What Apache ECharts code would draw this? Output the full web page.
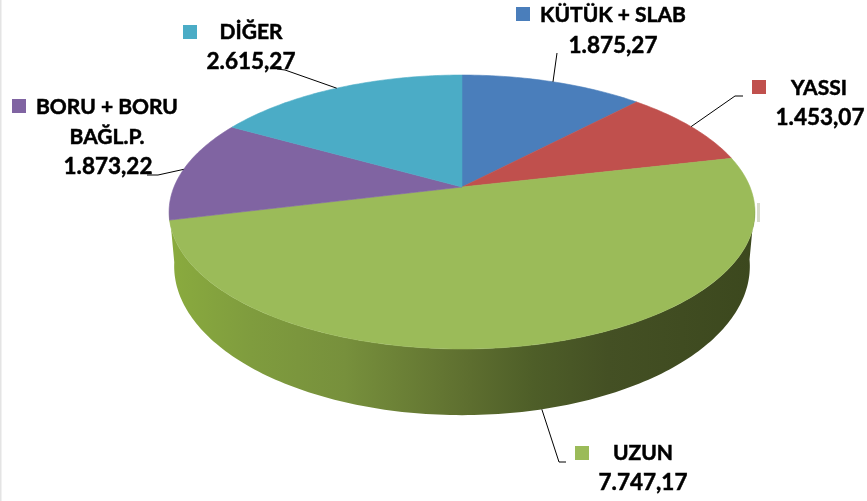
<!DOCTYPE html>
<html>
<head>
<meta charset="utf-8">
<style>
  html, body { margin: 0; padding: 0; background: #fff; }
  #chart { width: 867px; height: 501px; }
</style>
<script src="https://cdn.jsdelivr.net/npm/echarts@6/dist/echarts.min.js"></script>
</head>
<body>
<div id="chart"></div>
<script>
const categories = ['KÜTÜK + SLAB', 'YASSI', 'UZUN', 'BORU + BORU\nBAĞL.P.', 'DİĞER']
const values = [1875.27, 1453.07, 7747.17, 1873.22, 2615.27]
const colors = ['#4a7ebb', '#c0504d', '#9bbb59', '#8064a2', '#4bacc6']

// label layout, same order as categories
const swatches = [[516, 7], [752, 80], [575, 446], [12, 99], [183, 25]]
const labelLines = [
  [[613, 15], [613, 46]],
  [[819, 88], [820, 118]],
  [[643, 453], [643, 483]],
  [[107, 107], [107, 137], [108, 167]],
  [[251, 32], [251, 62]]
]
// leader lines run from the slice rim to these points
const leaderEnds = [
  [[557, 53]],
  [[735, 96], [743, 96]],
  [[559, 462], [566, 462]],
  [[158, 175], [147, 175]],
  [[285, 70], [277, 69]]
]

const total = values.reduce((a, b) => a + b, 0)

// tilted disc, perspective projection. angle is clockwise from the top
const topDisc = { cx: 462, cy: 187, a: 288, b: 132.4 }
const bottomDisc = { cx: 462, cy: 239, a: 283, b: 144 }
const persp = 0.1825

const project = (disc, deg) => {
  const t = deg * Math.PI / 180
  const w = 1 + persp * Math.cos(t)
  return [disc.cx + disc.a * Math.sin(t) / w, disc.cy - disc.b * Math.cos(t) / w]
}

const arc = (disc, from, to) => {
  const pts = []
  const n = Math.max(2, Math.ceil(Math.abs(to - from)))
  for (let i = 0; i <= n; i++) pts.push(project(disc, from + (to - from) * i / n))
  return pts
}

const formatValue = (v) => v.toLocaleString('tr-TR', { minimumFractionDigits: 2, maximumFractionDigits: 2 })

const sideGradient = {
  type: 'linear', x: 0, y: 0, x2: 1, y2: 0,
  colorStops: [
    { offset: 0, color: '#8aab3e' },
    { offset: 0.14, color: '#7f9c3e' },
    { offset: 0.3, color: '#77903c' },
    { offset: 0.5, color: '#5f7030' },
    { offset: 0.62, color: '#4e5e28' },
    { offset: 0.75, color: '#445024' },
    { offset: 1, color: '#3c481e' }
  ]
}

const nameFont = 'bold 21px Lato, sans-serif'
const valueFont = 'bold 22.5px Lato, sans-serif'

const renderSlice = (params, api) => {
  const i = params.dataIndex
  const before = values.slice(0, i).reduce((a, b) => a + b, 0)
  const start = before / total * 360
  const end = (before + api.value(0)) / total * 360
  const mid = (start + end) / 2
  const children = []

  // only the big front slice shows its side wall
  if (categories[i] === 'UZUN') {
    const rim = arc(topDisc, 98, 261)
    const floor = arc(bottomDisc, 261, 98)
    children.push({
      type: 'polygon',
      shape: { points: rim.concat(floor) },
      style: { fill: sideGradient }
    })
  }

  children.push({
    type: 'polygon',
    shape: { points: [[topDisc.cx, topDisc.cy]].concat(arc(topDisc, start, end)) },
    style: { fill: colors[i], stroke: colors[i], lineWidth: 0.6 }
  })

  // leader line, front slice hangs from the floor rim
  const frontFacing = mid > 98 && mid < 261
  const anchor = project(frontFacing ? bottomDisc : topDisc, mid)
  children.push({
    type: 'polyline',
    shape: { points: [anchor].concat(leaderEnds[i]) },
    style: { stroke: '#000', lineWidth: 1, fill: 'none' },
    z2: 5
  })

  children.push({
    type: 'rect',
    shape: { x: swatches[i][0], y: swatches[i][1], width: 14, height: 14 },
    style: { fill: colors[i] },
    z2: 5
  })

  const names = categories[i].split('\n')
  const lines = names.concat(formatValue(api.value(0)))
  lines.forEach((text, k) => {
    children.push({
      type: 'text',
      style: {
        text,
        x: labelLines[i][k][0],
        y: labelLines[i][k][1],
        font: k < names.length ? nameFont : valueFont,
        fill: '#000',
        stroke: '#000',
        lineWidth: 0.5,
        align: 'center',
        verticalAlign: 'middle'
      },
      z2: 6
    })
  })

  return { type: 'group', children }
}

const chart = echarts.init(document.getElementById('chart'))
chart.setOption({
  backgroundColor: '#fff',
  animation: false,
  graphic: [
    { type: 'rect', shape: { x: 0, y: 0, width: 1.5, height: 501 }, style: { fill: '#e4e4e4' } },
    { type: 'rect', shape: { x: 757, y: 203, width: 3, height: 19 }, style: { fill: '#d8dccb' } }
  ],
  series: [{
    type: 'custom',
    coordinateSystem: 'none',
    data: values.map((v, i) => ({ name: categories[i], value: [v] })),
    renderItem: renderSlice
  }]
})
</script>
</body>
</html>
